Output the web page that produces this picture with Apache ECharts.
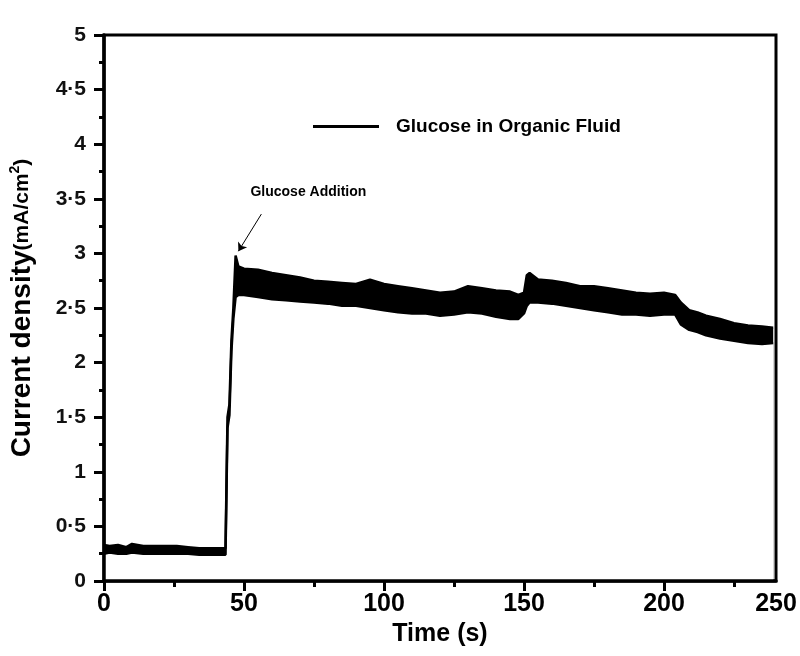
<!DOCTYPE html>
<html>
<head>
<meta charset="utf-8">
<script src="https://cdn.jsdelivr.net/npm/echarts@6/dist/echarts.min.js"></script>
<style>
html,body{margin:0;padding:0;background:#fff;}
#chart{width:800px;height:656px;}
</style>
</head>
<body>
<div id="chart"></div>
<script>
// Time (s) sample points
const times = [0, 2, 5, 8, 10, 14, 18, 22, 26, 30, 34, 38, 42, 43.4, 44.1, 44.8, 45.5, 46.2, 47, 48, 50, 55, 60, 65, 70, 75, 80, 85, 90, 95, 100, 105, 110, 115, 120, 125, 130, 135, 140, 145, 148, 150, 151, 152, 155, 160, 165, 170, 175, 180, 185, 190, 195, 200, 204, 206, 209, 212, 215, 220, 225, 230, 235, 239];
// upper edge of the noisy current band (mA/cm2)
const upper = [0.33, 0.32, 0.33, 0.31, 0.34, 0.32, 0.32, 0.32, 0.32, 0.31, 0.30, 0.30, 0.30, 0.30, 1.50, 1.62, 2.20, 2.50, 2.98, 2.88, 2.86, 2.85, 2.82, 2.80, 2.78, 2.75, 2.74, 2.73, 2.72, 2.76, 2.72, 2.70, 2.68, 2.66, 2.64, 2.65, 2.70, 2.68, 2.66, 2.65, 2.62, 2.64, 2.80, 2.82, 2.76, 2.75, 2.73, 2.70, 2.70, 2.68, 2.66, 2.64, 2.63, 2.64, 2.62, 2.55, 2.48, 2.46, 2.43, 2.40, 2.36, 2.34, 2.33, 2.32];
// lower edge of the noisy current band (mA/cm2)
const lower = [0.25, 0.26, 0.25, 0.25, 0.26, 0.25, 0.25, 0.25, 0.25, 0.25, 0.24, 0.24, 0.24, 0.24, 1.40, 1.52, 2.10, 2.40, 2.60, 2.62, 2.62, 2.60, 2.58, 2.57, 2.56, 2.55, 2.54, 2.52, 2.52, 2.50, 2.48, 2.46, 2.45, 2.45, 2.43, 2.44, 2.46, 2.45, 2.42, 2.40, 2.40, 2.45, 2.52, 2.55, 2.55, 2.54, 2.52, 2.50, 2.48, 2.46, 2.44, 2.44, 2.43, 2.44, 2.44, 2.35, 2.30, 2.28, 2.25, 2.22, 2.20, 2.18, 2.17, 2.18];

const seriesName = 'Glucose in Organic Fluid';
const xMajorTicks = [0, 50, 100, 150, 200];
const xMinorTicks = [25, 75, 125, 175, 225];
const xLabelValues = [0, 50, 100, 150, 200, 240];
const xLabelTexts = ['0', '50', '100', '150', '200', '250'];
const annotationText = 'Glucose Addition';
const arrowFrom = [56.2, 3.36];
const arrowTo = [48.0, 3.02];
const annotationPos = [73, 3.56];

const sans = "'Liberation Sans', Arial, sans-serif";

const chart = echarts.init(document.getElementById('chart'), null, {renderer: 'canvas'});
const option = {
  animation: false,
  backgroundColor: '#fff',
  grid: {left: 103, right: 24, top: 35, bottom: 75, show: true, borderColor: '#000', borderWidth: 3, backgroundColor: 'transparent'},
  legend: {
    data: [{name: seriesName, icon: 'rect'}],
    left: 308, top: 112, itemWidth: 66, itemHeight: 3,
    textStyle: {fontFamily: sans, fontWeight: 'bold', fontSize: 19, color: '#000', padding: [0, 0, 0, 12]}
  },
  xAxis: [{
    type: 'value', min: 0, max: 240, position: 'bottom', z: 10,
    axisLine: {lineStyle: {color: '#000', width: 3.5}},
    axisTick: {customValues: xMajorTicks, length: 10, lineStyle: {color: '#000', width: 3}},
    axisLabel: {customValues: xLabelValues, formatter: v => xLabelTexts[xLabelValues.indexOf(v)], margin: 11,
      fontFamily: sans, fontWeight: 'bold', fontSize: 25, color: '#000'},
    splitLine: {show: false},
    name: 'Time (s)', nameLocation: 'middle', nameGap: 41,
    nameTextStyle: {fontFamily: sans, fontWeight: 'bold', fontSize: 25, color: '#000'}
  }, {
    type: 'value', min: 0, max: 240, position: 'bottom', z: 10,
    axisLine: {show: false},
    axisTick: {customValues: xMinorTicks, length: 6, lineStyle: {color: '#000', width: 3}},
    axisLabel: {show: false},
    splitLine: {show: false}
  }],
  yAxis: {
    type: 'value', min: 0, max: 5, interval: 0.5, z: 10,
    axisLine: {lineStyle: {color: '#000', width: 3.5}},
    axisTick: {length: 10, lineStyle: {color: '#000', width: 3}},
    minorTick: {show: true, splitNumber: 2, length: 5, lineStyle: {color: '#000', width: 3}},
    splitLine: {show: false}, minorSplitLine: {show: false},
    axisLabel: {formatter: v => String(v).replace('.', '·'), margin: 18,
      fontFamily: sans, fontWeight: 'bold', fontSize: 21, color: '#111'},
    name: '{a|Current density}{b|(mA/cm}{c|2}{b|)}', nameLocation: 'middle', nameGap: 68,
    nameTextStyle: {
      color: '#000',
      rich: {
        a: {fontFamily: sans, fontWeight: 'bold', fontSize: 28, color: '#000'},
        b: {fontFamily: sans, fontWeight: 'bold', fontSize: 21, color: '#000'},
        c: {fontFamily: sans, fontWeight: 'bold', fontSize: 14, color: '#000', padding: [0, 0, 14, 0]}
      }
    }
  },
  series: [{
    name: seriesName, type: 'line', symbol: 'none',
    data: times.map((t, i) => [t, upper[i]]),
    itemStyle: {color: '#000'},
    lineStyle: {color: '#000', width: 2.5},
    areaStyle: {color: '#000', opacity: 1}
  }, {
    name: 'lower', type: 'line', symbol: 'none',
    data: times.map((t, i) => [t, lower[i]]),
    itemStyle: {color: '#000'},
    lineStyle: {color: '#000', width: 2.5},
    areaStyle: {color: '#fff', opacity: 1},
    markLine: {
      silent: true, symbol: ['none', 'arrow'], symbolSize: 8,
      lineStyle: {color: '#000', width: 1, type: 'solid'},
      itemStyle: {color: '#000'},
      label: {show: false},
      data: [[{coord: arrowFrom}, {coord: arrowTo}]]
    },
    markPoint: {
      silent: true,
      data: [{coord: annotationPos, symbol: 'rect', symbolSize: 1, itemStyle: {color: 'transparent'},
        label: {show: true, position: 'inside', formatter: annotationText, fontFamily: sans, fontWeight: 'bold', fontSize: 14, color: '#000'}}]
    }
  }]
};
chart.setOption(option);
</script>
</body>
</html>
